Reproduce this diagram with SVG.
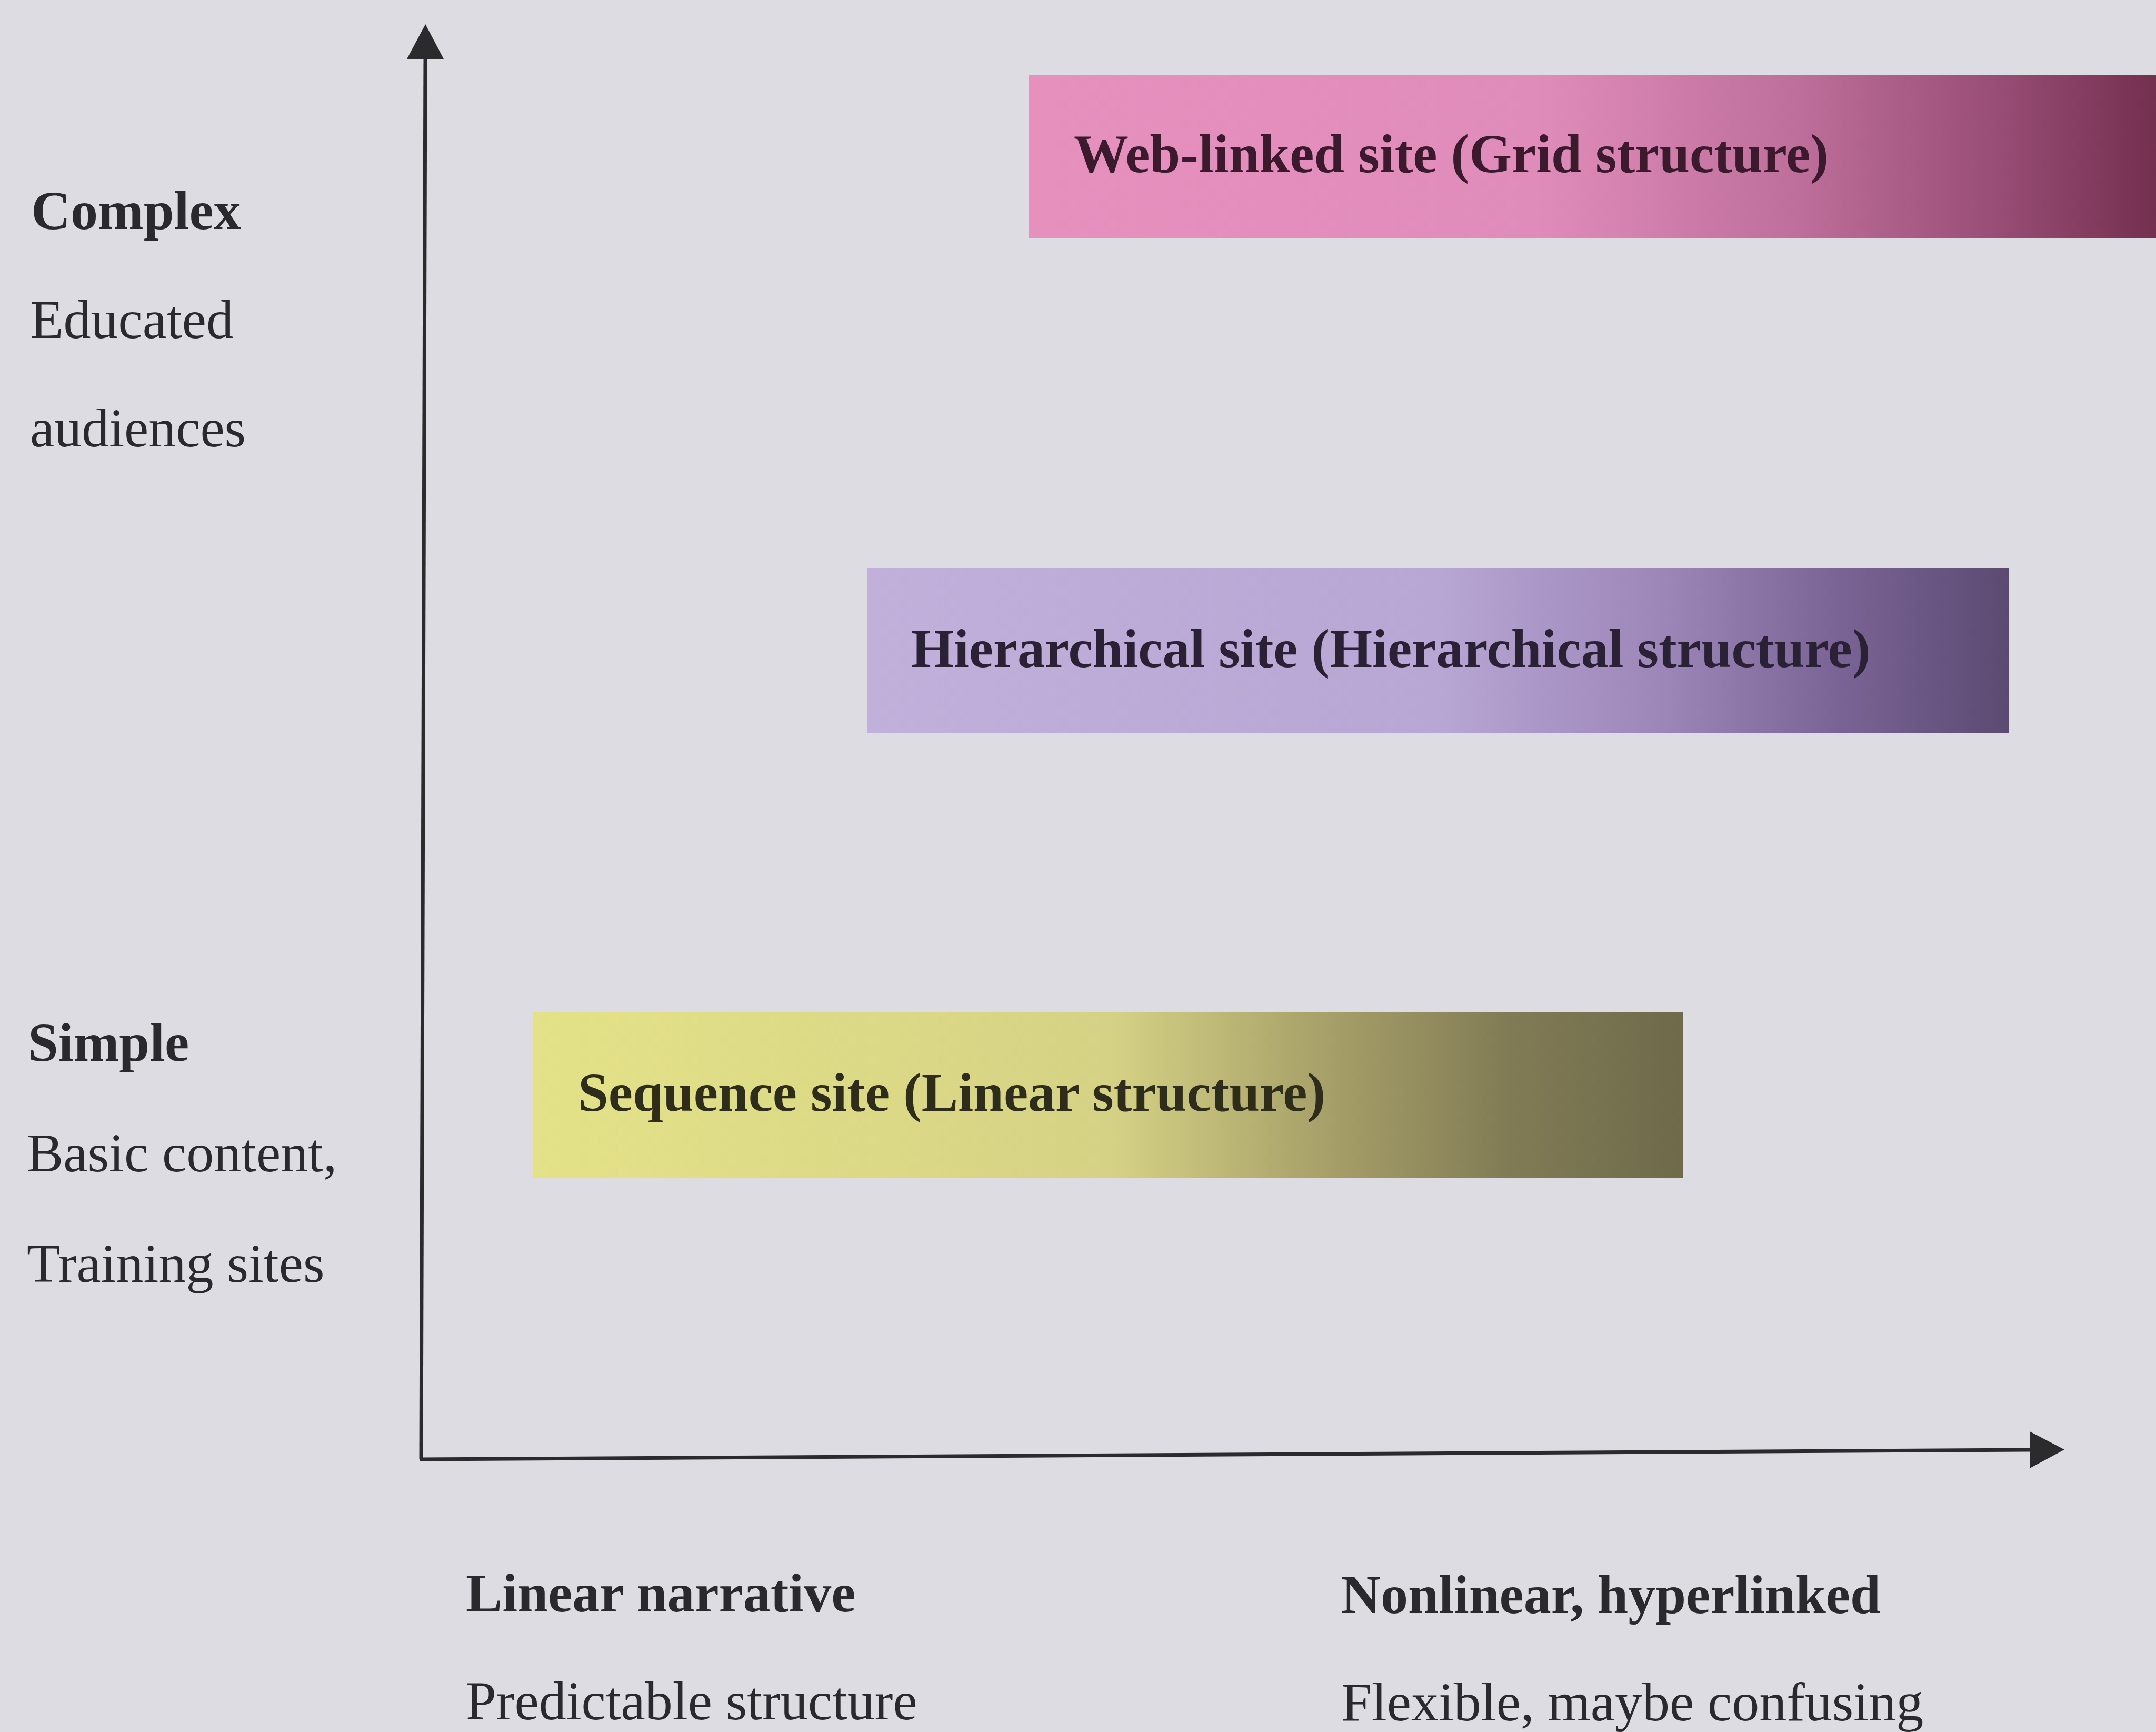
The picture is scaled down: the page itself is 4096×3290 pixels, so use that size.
<svg xmlns="http://www.w3.org/2000/svg" width="4096" height="3290" viewBox="0 0 4096 3290">
  <defs>
    <style>
      .lbl { font-family: "Liberation Serif", "Times New Roman", serif; font-size: 104px; fill: #2a2a2e; }
      .b { font-weight: bold; }
      .box-text { font-family: "Liberation Serif", "Times New Roman", serif; font-size: 104px; font-weight: bold; }
      .axis { stroke: #2b2b2e; stroke-width: 7; fill: none; }
    </style>
    <marker id="arrow" markerUnits="userSpaceOnUse" markerWidth="66" markerHeight="70" refX="0" refY="35" orient="auto" viewBox="0 0 66 70">
      <path d="M0,0 L66,35 L0,70 z" fill="#2b2b2e"/>
    </marker>
    <linearGradient id="gWeb" x1="0" y1="0" x2="1" y2="0">
      <stop offset="0" stop-color="#e690be"/>
      <stop offset="0.45" stop-color="#e08cba"/>
      <stop offset="0.68" stop-color="#be6f9b"/>
      <stop offset="0.85" stop-color="#9a4f78"/>
      <stop offset="1" stop-color="#74304f"/>
    </linearGradient>
    <linearGradient id="gHier" x1="0" y1="0" x2="1" y2="0">
      <stop offset="0" stop-color="#c0b0da"/>
      <stop offset="0.5" stop-color="#b8a6d4"/>
      <stop offset="0.7" stop-color="#9c86b8"/>
      <stop offset="0.85" stop-color="#7a6496"/>
      <stop offset="1" stop-color="#5c4a72"/>
    </linearGradient>
    <linearGradient id="gSeq" x1="0" y1="0" x2="1" y2="0">
      <stop offset="0" stop-color="#e4e288"/>
      <stop offset="0.5" stop-color="#d6d285"/>
      <stop offset="0.68" stop-color="#a9a26a"/>
      <stop offset="0.85" stop-color="#817b55"/>
      <stop offset="1" stop-color="#6e6a4a"/>
    </linearGradient>
  </defs>

  <rect x="0" y="0" width="4096" height="3290" fill="#dcdce2"/>

  <!-- axes -->
  <g id="connectors">
    <line class="axis" x1="800" y1="2772" x2="808" y2="112" marker-end="url(#arrow)"/>
    <line class="axis" x1="797" y1="2772" x2="3856" y2="2754" marker-end="url(#arrow)"/>
  </g>

  <!-- vertical axis labels -->
  <g id="y-high">
    <text class="lbl b" x="59" y="435">Complex</text>
    <text class="lbl" x="57" y="642">Educated</text>
    <text class="lbl" x="57" y="848">audiences</text>
  </g>
  <g id="y-low">
    <text class="lbl b" x="53" y="2015">Simple</text>
    <text class="lbl" x="51" y="2225">Basic content,</text>
    <text class="lbl" x="51" y="2435">Training sites</text>
  </g>

  <!-- horizontal axis labels -->
  <g id="x-low">
    <text class="lbl b" x="885" y="3061">Linear narrative</text>
    <text class="lbl" x="885" y="3266">Predictable structure</text>
  </g>
  <g id="x-high">
    <text class="lbl b" x="2548" y="3064">Nonlinear, hyperlinked</text>
    <text class="lbl" x="2548" y="3268">Flexible, maybe confusing</text>
  </g>

  <!-- site types -->
  <g id="web-linked">
    <rect x="1955" y="143" width="2141" height="310" fill="url(#gWeb)"/>
    <text class="box-text" x="2040" y="327" fill="#3a1a2c">Web-linked site (Grid structure)</text>
  </g>
  <g id="hierarchical">
    <rect x="1647" y="1079" width="2169" height="314" fill="url(#gHier)"/>
    <text class="box-text" x="1731" y="1267" fill="#2a2234">Hierarchical site (Hierarchical structure)</text>
  </g>
  <g id="sequence">
    <rect x="1012" y="1922" width="2186" height="316" fill="url(#gSeq)"/>
    <text class="box-text" x="1098" y="2110" fill="#2e2c1a">Sequence site (Linear structure)</text>
  </g>
</svg>
